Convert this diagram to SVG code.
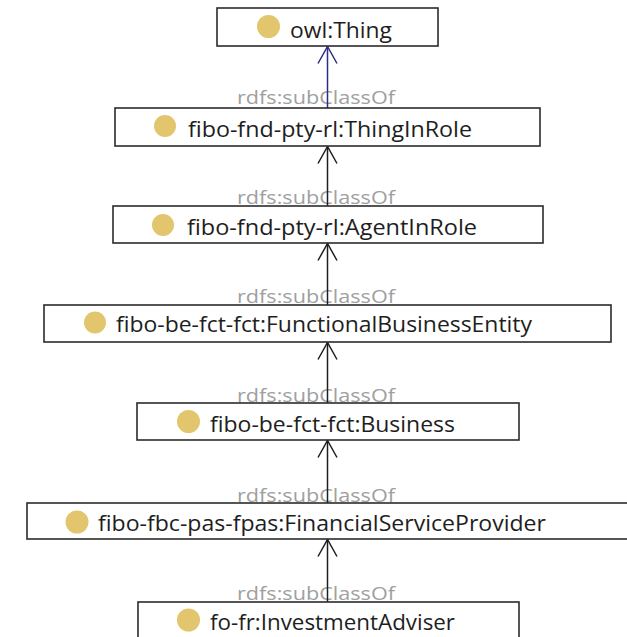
<svg xmlns="http://www.w3.org/2000/svg" width="627" height="637" viewBox="0 0 627 637">
  <style>
    .box { fill: #ffffff; stroke: #2b2b2b; stroke-width: 1.6; }
    .dot { fill: #e2c56c; }
    .name { font-family: "Open Sans", "Noto Sans", "Liberation Sans", sans-serif; font-size: 22px; fill: #1e1e1e; }
    .edge { stroke: #1e1e1e; stroke-width: 1.5; fill: none; }
    .edge.top { stroke: #2e2e80; }
    .rel { font-family: "Open Sans", "Noto Sans", "Liberation Sans", sans-serif; font-size: 19px; fill: #a0a0a0; }
  </style>
  <defs>
    <marker id="open-arrow" viewBox="-18 -11 20 22" refX="0" refY="0" markerWidth="20" markerHeight="22" markerUnits="userSpaceOnUse" orient="auto">
      <path d="M -17 -9.5 L 0 0 L -17 9.5" fill="none" stroke="#1e1e1e" stroke-width="1.5"/>
    </marker>
    <marker id="open-arrow-blue" viewBox="-18 -11 20 22" refX="0" refY="0" markerWidth="20" markerHeight="22" markerUnits="userSpaceOnUse" orient="auto">
      <path d="M -17 -9.5 L 0 0 L -17 9.5" fill="none" stroke="#2e2e80" stroke-width="1.5"/>
    </marker>
  </defs>
  <rect width="627" height="637" fill="#ffffff"/>

  <!-- subclass links: child box top up to parent box bottom -->
  <g id="connectors">
    <text class="rel" x="237" y="104" textLength="158" lengthAdjust="spacingAndGlyphs">rdfs:subClassOf</text>
    <text class="rel" x="237" y="204" textLength="158" lengthAdjust="spacingAndGlyphs">rdfs:subClassOf</text>
    <text class="rel" x="237" y="302.5" textLength="158" lengthAdjust="spacingAndGlyphs">rdfs:subClassOf</text>
    <text class="rel" x="237" y="402" textLength="158" lengthAdjust="spacingAndGlyphs">rdfs:subClassOf</text>
    <text class="rel" x="237" y="502" textLength="158" lengthAdjust="spacingAndGlyphs">rdfs:subClassOf</text>
    <text class="rel" x="237" y="600" textLength="158" lengthAdjust="spacingAndGlyphs">rdfs:subClassOf</text>
    <line class="edge top" x1="327.5" y1="108" x2="327.5" y2="46.5" marker-end="url(#open-arrow-blue)"/>
    <line class="edge" x1="327.5" y1="206" x2="327.5" y2="146.5" marker-end="url(#open-arrow)"/>
    <line class="edge" x1="327.5" y1="305" x2="327.5" y2="243.5" marker-end="url(#open-arrow)"/>
    <line class="edge" x1="327.5" y1="403" x2="327.5" y2="342.5" marker-end="url(#open-arrow)"/>
    <line class="edge" x1="327.5" y1="503" x2="327.5" y2="440.5" marker-end="url(#open-arrow)"/>
    <line class="edge" x1="327.5" y1="602" x2="327.5" y2="539.5" marker-end="url(#open-arrow)"/>
  </g>

  <g id="owl-thing">
    <rect class="box" x="217" y="8" width="221" height="38"/>
    <circle class="dot" cx="268.5" cy="26.5" r="11.5"/>
    <text class="name" x="290" y="38" textLength="102" lengthAdjust="spacingAndGlyphs">owl:Thing</text>
  </g>

  <g id="thing-in-role">
    <rect class="box" x="115" y="108" width="425" height="38"/>
    <circle class="dot" cx="165" cy="126" r="11"/>
    <text class="name" x="188" y="137" textLength="284" lengthAdjust="spacingAndGlyphs">fibo-fnd-pty-rl:ThingInRole</text>
  </g>

  <g id="agent-in-role">
    <rect class="box" x="113" y="206" width="430" height="37"/>
    <circle class="dot" cx="163" cy="225" r="11"/>
    <text class="name" x="187" y="235" textLength="290" lengthAdjust="spacingAndGlyphs">fibo-fnd-pty-rl:AgentInRole</text>
  </g>

  <g id="functional-business-entity">
    <rect class="box" x="44" y="305" width="567" height="37"/>
    <circle class="dot" cx="95" cy="322.5" r="11"/>
    <text class="name" x="116" y="332" textLength="416" lengthAdjust="spacingAndGlyphs">fibo-be-fct-fct:FunctionalBusinessEntity</text>
  </g>

  <g id="business">
    <rect class="box" x="137" y="403" width="382" height="37"/>
    <circle class="dot" cx="188.5" cy="421.5" r="11.5"/>
    <text class="name" x="210" y="432" textLength="245" lengthAdjust="spacingAndGlyphs">fibo-be-fct-fct:Business</text>
  </g>

  <g id="financial-service-provider">
    <rect class="box" x="27" y="503" width="601" height="36"/>
    <circle class="dot" cx="77" cy="522" r="11.5"/>
    <text class="name" x="98" y="531" textLength="448" lengthAdjust="spacingAndGlyphs">fibo-fbc-pas-fpas:FinancialServiceProvider</text>
  </g>

  <g id="investment-adviser">
    <rect class="box" x="138" y="602" width="381" height="40"/>
    <circle class="dot" cx="188.5" cy="620" r="11.5"/>
    <text class="name" x="210" y="630" textLength="245" lengthAdjust="spacingAndGlyphs">fo-fr:InvestmentAdviser</text>
  </g>
</svg>
